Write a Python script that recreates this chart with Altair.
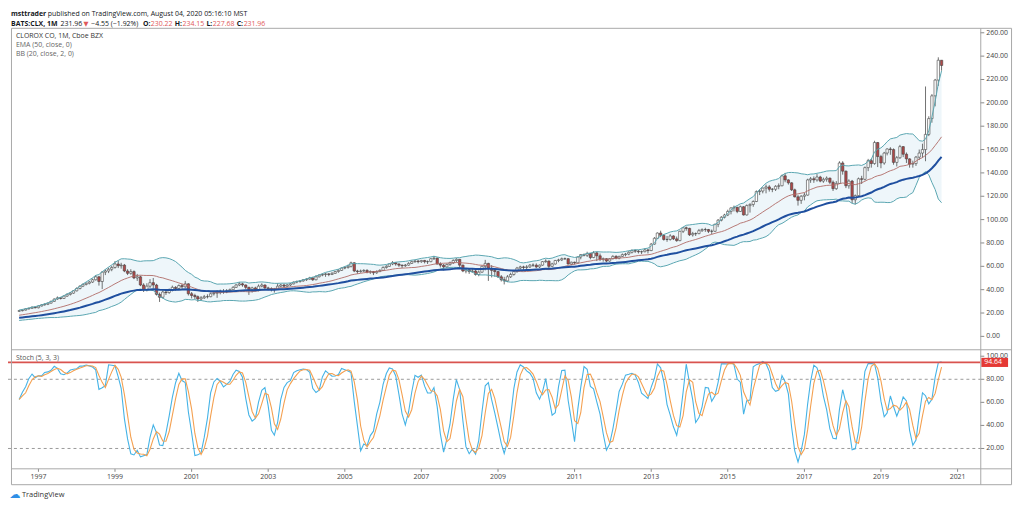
import altair as alt
import pandas as pd

# ---------------- values ----------------
first_month = "1996-07-01"
first_open = 21.5

# closes before the visible range (Jan 1993 - Jun 1996), only used to seed the indicators
warmup_closes = [
    12.0, 12.2, 12.5, 12.3, 12.0, 12.4, 12.6, 12.5, 12.8, 13.0, 13.2, 13.1,
    13.3, 13.5, 13.2, 13.0, 13.4, 13.6, 13.8, 14.0, 13.9, 14.2, 14.5, 14.6,
    14.8, 15.2, 15.5, 15.9, 16.3, 16.8, 17.2, 17.6, 17.9, 18.3, 18.7, 19.0,
    19.5, 19.8, 20.2, 20.5, 21.0, 21.5,
]

closes = [
    22.0, 22.5, 23.5, 24.0, 25.0, 24.5,
    26.0, 27.0, 27.5, 28.5, 30.0, 32.0, 33.0, 32.5, 34.5, 36.0, 37.0, 39.0,
    41.0, 43.0, 44.5, 45.5, 46.5, 48.5, 51.0, 47.0, 55.0, 56.0, 57.5, 59.0,
    62.0, 60.5, 61.0, 56.0, 54.0, 55.5, 50.0, 51.0, 44.0, 40.0, 43.0, 46.0,
    44.0, 36.0, 33.5, 38.0, 37.5, 39.5, 42.0, 41.0, 43.5, 42.5, 45.0, 36.5,
    35.0, 34.0, 32.0, 33.0, 34.0, 34.0, 36.5, 37.0, 37.5, 38.5, 38.0, 39.0,
    40.0, 42.0, 44.0, 45.0, 44.0, 42.0, 40.0, 41.5, 40.0, 43.0, 44.0, 41.5,
    41.0, 40.0, 40.5, 43.0, 44.0, 43.0, 44.0, 45.0, 46.5, 47.0, 47.5, 48.5,
    49.0, 50.0, 48.5, 51.0, 52.5, 53.0, 53.5, 53.0, 54.0, 55.5, 56.5, 58.5,
    59.0, 60.0, 63.0, 56.0, 55.5, 56.0, 56.5, 55.0, 55.5, 54.5, 55.5, 56.5,
    59.0, 60.0, 62.0, 63.0, 62.0, 61.0, 60.5, 61.0, 62.5, 64.0, 64.5, 64.0,
    65.0, 64.0, 64.0, 66.5, 67.0, 62.0, 61.0, 59.5, 61.5, 63.0, 65.0, 66.0,
    61.0, 56.0, 57.0, 55.5, 56.0, 53.0, 55.0, 60.0, 62.5, 58.0, 56.5, 55.5,
    51.0, 48.5, 47.5, 51.0, 53.0, 55.5, 58.5, 59.5, 59.0, 59.5, 61.0, 61.0,
    59.5, 61.0, 64.0, 64.5, 60.0, 62.0, 65.0, 65.5, 66.5, 66.5, 62.0, 63.5,
    63.0, 68.0, 70.0, 69.5, 71.0, 67.5, 71.5, 69.0, 66.0, 66.5, 64.5, 66.5,
    68.5, 67.0, 68.5, 70.0, 70.5, 72.0, 73.5, 73.0, 72.5, 72.5, 74.0, 73.5,
    79.0, 84.0, 88.5, 86.5, 83.0, 83.0, 86.0, 83.5, 82.0, 90.0, 93.0, 92.5,
    87.0, 88.0, 88.0, 90.5, 91.5, 91.5, 90.0, 90.0, 96.0, 99.5, 102.0, 104.0,
    107.0, 110.0, 110.5, 107.0, 111.0, 104.0, 112.0, 113.0, 115.5, 124.0, 124.5, 127.0,
    128.0, 126.0, 126.0, 128.5, 129.0, 137.5, 134.0, 131.5, 125.5, 119.5, 116.5, 120.0,
    121.0, 134.0, 135.0, 134.0, 136.5, 133.0, 134.5, 135.5, 132.0, 126.5, 131.0, 148.5,
    141.5, 129.0, 133.0, 117.0, 120.5, 135.0, 134.5, 144.5, 150.5, 148.0, 166.0, 154.0,
    148.5, 157.0, 160.5, 160.0, 149.0, 153.0, 162.5, 156.0, 152.0, 147.5, 148.0, 153.5,
    157.0, 160.0, 173.0, 186.5, 206.0, 219.5, 236.5, 232.0,
]

highs = [
    22.6, 23.0, 24.0, 24.6, 25.6, 25.5,
    26.5, 27.6, 28.3, 29.0, 30.6, 32.5, 34.2, 33.6, 35.2, 36.8, 38.0, 39.6,
    42.0, 43.8, 45.3, 46.2, 47.4, 49.5, 52.5, 51.8, 56.0, 57.5, 58.8, 60.5,
    64.5, 65.0, 63.0, 62.0, 57.5, 57.5, 56.5, 53.5, 52.0, 45.5, 45.5, 49.0,
    50.0, 45.0, 37.5, 39.5, 40.0, 41.0, 43.5, 43.0, 44.5, 45.0, 47.5, 45.5,
    38.0, 36.5, 35.0, 34.5, 35.5, 36.0, 37.5, 38.5, 39.5, 40.0, 40.5, 40.5,
    41.0, 43.0, 44.8, 46.5, 46.0, 44.5, 42.5, 42.5, 42.5, 44.5, 45.5, 44.5,
    42.5, 42.0, 41.5, 45.5, 45.0, 45.0, 44.8, 45.8, 47.0, 47.8, 48.2, 49.0,
    49.8, 51.0, 51.0, 52.5, 53.2, 54.0, 54.2, 54.2, 55.0, 56.0, 57.5, 59.0,
    60.0, 61.5, 64.0, 63.5, 57.0, 57.2, 57.5, 57.5, 56.5, 56.0, 56.5, 57.5,
    60.0, 61.0, 62.5, 64.5, 63.5, 62.5, 61.5, 62.0, 63.5, 65.0, 65.5, 65.5,
    65.5, 65.5, 65.0, 67.0, 69.0, 67.5, 63.5, 62.0, 62.5, 64.0, 66.0, 67.0,
    66.0, 61.5, 58.5, 58.0, 58.5, 57.0, 56.5, 60.5, 65.5, 63.0, 61.0, 57.5,
    56.0, 52.5, 51.0, 52.5, 54.5, 56.5, 59.5, 60.5, 60.5, 61.0, 62.0, 62.5,
    62.5, 61.5, 64.5, 66.0, 65.0, 63.0, 65.5, 66.5, 67.5, 67.5, 67.0, 64.0,
    64.0, 68.5, 70.5, 71.0, 72.5, 71.5, 73.0, 72.5, 71.0, 67.5, 67.0, 67.0,
    69.5, 69.5, 69.0, 71.0, 71.5, 73.0, 74.5, 74.5, 74.0, 73.5, 75.5, 75.0,
    80.0, 85.0, 89.0, 90.5, 87.5, 86.0, 87.5, 86.5, 85.5, 90.5, 93.5, 94.0,
    93.0, 89.5, 89.0, 92.0, 92.5, 93.0, 92.0, 91.5, 96.5, 100.5, 103.0, 105.0,
    108.5, 110.5, 112.0, 111.0, 112.0, 111.5, 113.0, 114.0, 116.5, 125.0, 126.0, 127.5,
    130.0, 129.5, 127.0, 129.5, 131.0, 138.5, 140.0, 134.5, 132.0, 126.5, 121.0, 121.0,
    123.0, 135.0, 136.5, 137.0, 139.0, 137.5, 136.0, 137.0, 136.0, 133.5, 133.0, 150.0,
    150.0, 142.0, 134.5, 134.0, 121.5, 136.0, 137.5, 145.5, 152.0, 152.0, 167.5, 166.5,
    155.5, 158.0, 161.0, 162.0, 161.0, 154.5, 164.0, 163.0, 157.5, 152.5, 150.5, 154.5,
    160.0, 165.0, 214.0, 188.5, 207.5, 220.5, 239.0, 234.5,
]

lows = [
    21.0, 21.4, 22.2, 23.1, 23.7, 24.0,
    24.0, 25.6, 26.4, 26.8, 28.0, 29.6, 31.4, 31.6, 32.0, 33.8, 35.0, 36.5,
    38.5, 40.2, 42.2, 43.6, 44.5, 45.8, 47.8, 43.5, 40.5, 52.5, 54.2, 55.8,
    58.0, 58.5, 58.0, 55.0, 52.5, 52.8, 49.0, 47.5, 43.0, 38.0, 38.5, 41.5,
    41.0, 35.0, 29.5, 32.5, 35.5, 36.5, 38.5, 39.0, 40.0, 40.5, 41.5, 35.0,
    32.5, 32.0, 29.5, 30.5, 32.0, 32.5, 33.5, 35.0, 33.0, 36.0, 36.5, 37.0,
    38.0, 39.5, 41.5, 43.0, 42.5, 40.5, 35.5, 37.5, 38.5, 38.5, 42.0, 40.5,
    39.5, 38.5, 37.5, 40.0, 42.0, 42.0, 42.0, 43.0, 44.5, 45.5, 46.0, 46.8,
    47.5, 48.5, 47.5, 48.0, 50.5, 51.5, 51.0, 51.5, 52.5, 53.5, 54.5, 56.0,
    57.5, 58.0, 59.0, 55.0, 53.5, 54.5, 55.0, 54.0, 53.5, 52.5, 53.5, 55.0,
    56.0, 58.0, 59.5, 61.0, 60.5, 59.5, 58.5, 59.5, 60.5, 62.0, 63.0, 62.5,
    63.0, 62.5, 62.0, 63.5, 65.5, 61.5, 59.0, 56.5, 58.5, 60.5, 62.0, 63.5,
    58.0, 55.0, 54.0, 53.5, 54.5, 52.0, 51.5, 54.5, 56.5, 47.5, 50.5, 51.0,
    50.0, 47.0, 44.5, 46.5, 50.0, 52.0, 54.5, 57.5, 57.0, 57.5, 58.5, 59.5,
    58.5, 58.5, 60.5, 63.0, 58.5, 59.5, 61.5, 63.5, 64.5, 65.5, 61.5, 61.0,
    61.5, 62.5, 66.0, 68.5, 68.0, 66.0, 67.0, 64.5, 64.5, 64.0, 63.5, 64.0,
    66.0, 66.0, 66.0, 68.0, 68.5, 69.5, 71.0, 71.5, 71.0, 70.5, 72.0, 71.0,
    73.0, 78.5, 83.5, 85.0, 82.0, 81.0, 82.0, 82.5, 81.0, 81.5, 88.5, 90.5,
    86.0, 85.5, 86.0, 87.5, 89.5, 89.5, 88.5, 87.5, 89.5, 93.5, 98.5, 101.0,
    103.0, 104.5, 107.0, 105.5, 106.5, 103.5, 103.5, 106.0, 111.0, 115.0, 121.0, 122.5,
    122.5, 124.0, 123.5, 124.5, 126.0, 128.5, 132.0, 130.0, 124.5, 119.0, 112.0, 113.5,
    116.5, 120.5, 131.5, 131.5, 132.5, 132.0, 131.5, 132.5, 130.5, 124.5, 125.5, 130.5,
    138.5, 127.0, 126.5, 114.0, 113.0, 119.5, 130.5, 133.5, 141.5, 144.5, 147.0, 145.0,
    144.0, 147.0, 155.0, 155.5, 147.0, 145.5, 152.0, 153.5, 148.5, 144.5, 144.5, 146.0,
    151.0, 153.0, 150.0, 171.5, 183.0, 197.0, 214.5, 227.5,
]

price_ticks = [0, 20, 40, 60, 80, 100, 120, 140, 160, 180, 200, 220, 240, 260]
stoch_ticks = [20, 40, 60, 80, 100]
stoch_levels = [80, 20]
year_ticks = [1997, 1999, 2001, 2003, 2005, 2007, 2009, 2011, 2013, 2015, 2017, 2019, 2021]
last_stoch_value = 94.64

header_line1 = ("msttrader", "published on TradingView.com, August 04, 2020 05:16:10 MST")
legend_lines = ["CLOROX CO, 1M, Cboe BZX", "EMA (50, close, 0)", "BB (20, close, 2, 0)"]
stoch_title = "Stoch (5, 3, 3)"

# ---------------- indicators computed from the series ----------------
n = len(closes)
dates = pd.date_range(first_month, periods=n, freq="MS")
t_ms = dates.asi8 // 10**6
opens = [first_open] + closes[:-1]
hi = [max(h, o, c) for h, o, c in zip(highs, opens, closes)]
lo = [min(l, o, c) for l, o, c in zip(lows, opens, closes)]

allc = pd.Series(warmup_closes + closes, dtype=float)
w = len(warmup_closes)
ema = allc.ewm(span=50, adjust=False).mean().iloc[w:].to_numpy()
basis = allc.rolling(20).mean().iloc[w:].to_numpy()
sd = allc.rolling(20).std(ddof=0).iloc[w:].to_numpy()

hs, ls, cs = pd.Series(hi), pd.Series(lo), pd.Series(closes, dtype=float)
hh = hs.rolling(5, min_periods=1).max()
ll = ls.rolling(5, min_periods=1).min()
raw = 100 * (cs - ll) / (hh - ll)
k = raw.rolling(3, min_periods=1).mean()
d = k.rolling(3, min_periods=1).mean()

df = pd.DataFrame({
    "t": t_ms, "open": opens, "close": closes, "high": hi, "low": lo,
    "dir": ["up" if c >= o else "down" for o, c in zip(opens, closes)],
    "ema": ema, "basis": basis, "upper": basis + 2 * sd, "lower": basis - 2 * sd,
    "k": k.to_numpy(), "d": d.to_numpy(),
})

# ---------------- scales ----------------
W, H = 1016, 499
X0 = pd.Timestamp("1996-05-03").value // 10**6
X1 = pd.Timestamp("2021-06-19").value // 10**6
AXIS_X = 980
xs = alt.Scale(domain=[int(X0), int(X1)], range=[0, AXIS_X])
ps = alt.Scale(domain=[0, 260], range=[329, 23], nice=False, zero=False)
ss = alt.Scale(domain=[20, 100], range=[442, 349], nice=False, zero=False)
X = alt.X("t:T", scale=xs, axis=None)

FONT = "Open Sans"
base = alt.Chart(df)
dummy = pd.DataFrame({"a": [0]})


def Yp(f):
    return alt.Y(f"{f}:Q", scale=ps, axis=None)


def Ys(f):
    return alt.Y(f"{f}:Q", scale=ss, axis=None)


def hline(y, x1, x2, color="#a8a8a8", width=1.0, dash=None):
    kw = dict(color=color, strokeWidth=width)
    if dash:
        kw["strokeDash"] = dash
    return alt.Chart(dummy).mark_rule(**kw).encode(
        x=alt.value(x1), x2=alt.value(x2), y=alt.value(y))


def vline(x, y1, y2, color="#a8a8a8", width=1.0):
    return alt.Chart(dummy).mark_rule(color=color, strokeWidth=width).encode(
        x=alt.value(x), y=alt.value(y1), y2=alt.value(y2))


def label(txt, x, y, size=7, color="#333333", weight="normal", align="left", font=FONT):
    return alt.Chart(dummy).mark_text(
        text=txt, fontSize=size, color=color, fontWeight=weight, align=align,
        baseline="middle", font=font).encode(x=alt.value(x), y=alt.value(y))


# ---------------- price panel ----------------
bb_fill = base.mark_area(color="#e3f0f6", opacity=0.6).encode(x=X, y=Yp("upper"), y2="lower")
wicks = base.mark_rule(color="#4d4d4d", strokeWidth=0.8).encode(x=X, y=Yp("low"), y2="high")
bodies = base.mark_bar(size=2.4, stroke="#444444", strokeWidth=0.6).encode(
    x=X, y=Yp("open"), y2="close",
    fill=alt.Fill("dir:N", scale=alt.Scale(domain=["up", "down"], range=["#ffffff", "#b04848"]), legend=None))
upper_l = base.mark_line(color="#5aa6b1", strokeWidth=1).encode(x=X, y=Yp("upper"))
lower_l = base.mark_line(color="#5aa6b1", strokeWidth=1).encode(x=X, y=Yp("lower"))
basis_l = base.mark_line(color="#b06b66", strokeWidth=0.9).encode(x=X, y=Yp("basis"))
ema_l = base.mark_line(color="#1f4f9f", strokeWidth=2).encode(x=X, y=Yp("ema"))

pt = pd.DataFrame({"p": price_ticks, "lab": [f"{v:.2f}" for v in price_ticks]})
p_ticks = alt.Chart(pt).mark_rule(color="#888888", strokeWidth=1).encode(
    x=alt.value(AXIS_X), x2=alt.value(AXIS_X + 4), y=Yp("p"))
p_labels = alt.Chart(pt).mark_text(align="left", baseline="middle", fontSize=7, font=FONT,
                                   color="#444444").encode(x=alt.value(AXIS_X + 6), y=Yp("p"), text="lab:N")

price_layer = alt.layer(bb_fill, wicks, bodies, upper_l, lower_l, basis_l, ema_l, p_ticks, p_labels)

# ---------------- stochastic panel ----------------
lv = pd.DataFrame({"v": stoch_levels})
levels = alt.Chart(lv).mark_rule(color="#9a9a9a", strokeWidth=1, strokeDash=[3, 3]).encode(
    x=alt.value(0), x2=alt.value(AXIS_X), y=Ys("v"))
k_line = base.mark_line(color="#45b3e6", strokeWidth=1.1).encode(x=X, y=Ys("k"))
d_line = base.mark_line(color="#f4a050", strokeWidth=1.1).encode(x=X, y=Ys("d"))

lastv = pd.DataFrame({"v": [last_stoch_value],
                      "v_hi": [last_stoch_value + 4.6 / ((442 - 349) / 80)],
                      "v_lo": [last_stoch_value - 4.6 / ((442 - 349) / 80)],
                      "lab": [f"{last_stoch_value:.2f}"]})
last_rule = alt.Chart(lastv).mark_rule(color="#d9534f", strokeWidth=1.6).encode(
    x=alt.value(0), x2=alt.value(AXIS_X), y=Ys("v"))

st = pd.DataFrame({"p": stoch_ticks, "lab": [f"{v:.2f}" for v in stoch_ticks]})
s_ticks = alt.Chart(st).mark_rule(color="#888888", strokeWidth=1).encode(
    x=alt.value(AXIS_X), x2=alt.value(AXIS_X + 4), y=Ys("p"))
s_labels = alt.Chart(st).mark_text(align="left", baseline="middle", fontSize=7, font=FONT,
                                   color="#444444").encode(x=alt.value(AXIS_X + 6), y=Ys("p"), text="lab:N")
last_box = alt.Chart(lastv).mark_rect(color="#e53935").encode(
    x=alt.value(AXIS_X + 1), x2=alt.value(AXIS_X + 28), y=Ys("v_hi"), y2="v_lo")
last_text = alt.Chart(lastv).mark_text(align="left", baseline="middle", fontSize=7, font=FONT,
                                       color="#ffffff").encode(x=alt.value(AXIS_X + 4), y=Ys("v"), text="lab:N")

stoch_layer = alt.layer(levels, k_line, d_line, last_rule, s_ticks, s_labels, last_box, last_text)

# ---------------- time axis ----------------
yt = pd.DataFrame({"t": [pd.Timestamp(f"{y}-01-01").value // 10**6 for y in year_ticks],
                   "lab": [str(y) for y in year_ticks]})
t_ticks = alt.Chart(yt).mark_rule(color="#888888", strokeWidth=1).encode(
    x=X, y=alt.value(462.5), y2=alt.value(465.5))
t_labels = alt.Chart(yt).mark_text(align="center", baseline="middle", fontSize=7, font=FONT,
                                   color="#444444").encode(x=X, y=alt.value(470.5), text="lab:N")

# ---------------- frame and texts ----------------
FL, FR, FT, FB = 3.5, 1011.5, 18.5, 478.5
frame = [
    hline(FT, FL, FR), hline(FB, FL, FR), vline(FL, FT, FB), vline(FR, FT, FB),
    vline(AXIS_X + 0.5, FT, FB), hline(342.5, FL, FR), hline(462.5, FL, FR),
]

hdr = "#131722"
red = "#e05a5a"
texts = [
    label(header_line1[0], 3, 4.5, color=hdr, weight="bold"),
    label(header_line1[1], 40, 4.5, color=hdr),
    label("BATS:CLX, 1M", 3, 13.8, color=hdr, weight="bold"),
    label("231.96", 53, 13.8, color=hdr),
    label("▼", 76, 13.8, color=red, size=6.5, font="DejaVu Sans"),
    label("−4.55 (−1.92%)", 84, 13.8, color=hdr),
    label("O:", 136, 13.8, color=hdr, weight="bold"),
    label("230.22", 144, 13.8, color=red),
    label("H:", 168, 13.8, color=hdr, weight="bold"),
    label("234.15", 176, 13.8, color=red),
    label("L:", 200, 13.8, color=hdr, weight="bold"),
    label("227.68", 206.5, 13.8, color=red),
    label("C:", 230.5, 13.8, color=hdr, weight="bold"),
    label("231.96", 237.5, 13.8, color=red),
    label(legend_lines[0], 8, 26, color="#333333"),
    label(legend_lines[1], 8, 35, color="#666666"),
    label(legend_lines[2], 8, 44, color="#666666"),
    label(stoch_title, 8, 351, color="#555555"),
    label("☁", 7, 489, size=11, color="#2f8fe6", align="center", font="DejaVu Sans"),
    label("TradingView", 14, 489, size=7.5, color="#333333"),
]

chart = alt.layer(
    price_layer, stoch_layer, t_ticks, t_labels, *frame, *texts
).resolve_scale(y="independent").properties(
    width=W, height=H, padding=0,
    autosize=alt.AutoSizeParams(type="none"),
    background="white",
).configure_view(stroke=None)

chart.save("out.html", embed_options={"renderer": "svg", "actions": False})
